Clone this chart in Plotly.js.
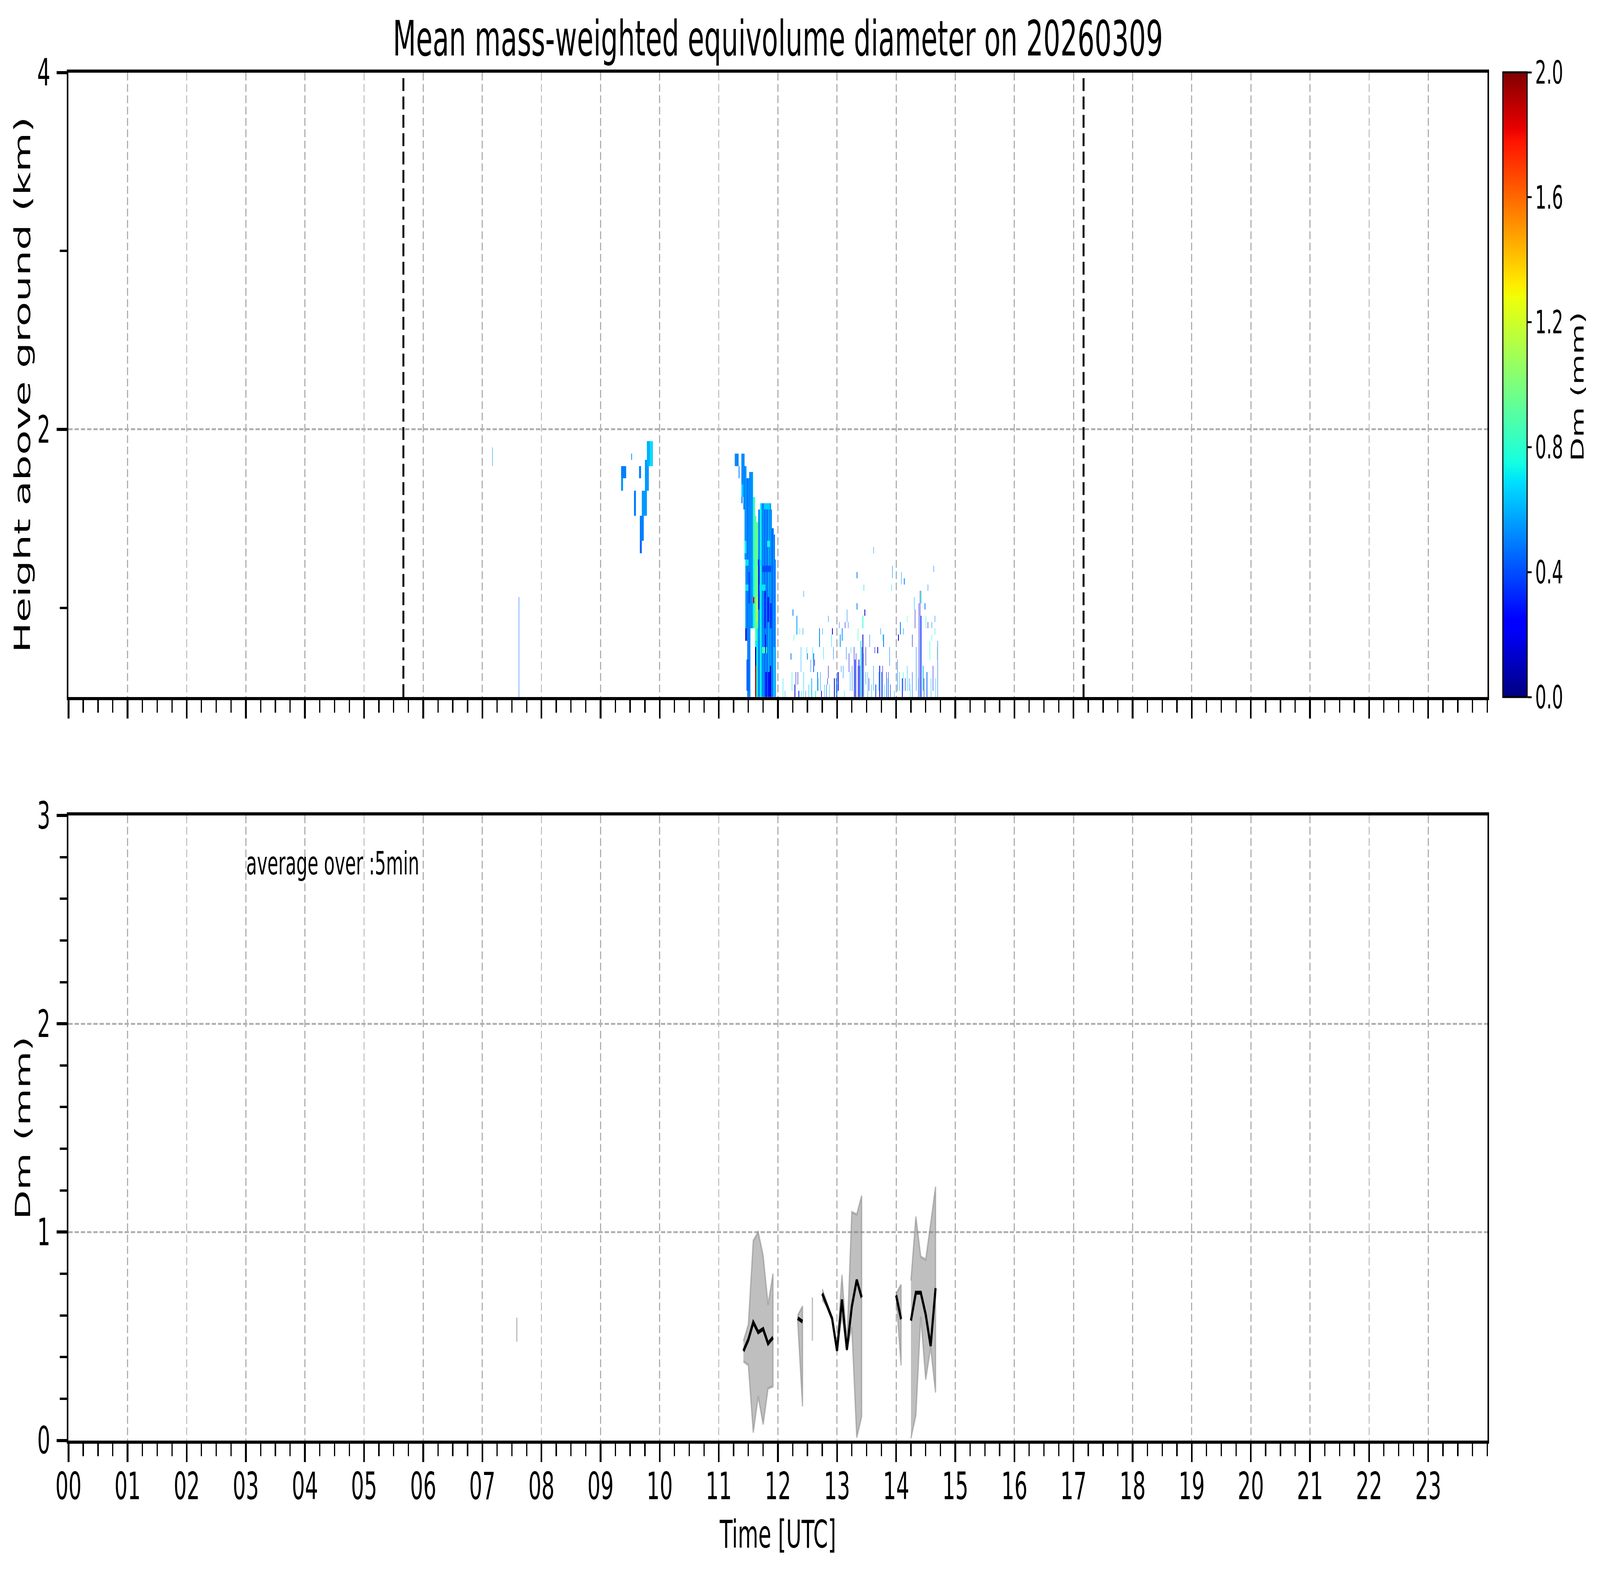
<!DOCTYPE html>
<html>
<head>
<meta charset="utf-8">
<script src="https://cdn.plot.ly/plotly-3.0.1.min.js"></script>
<style>
html,body{margin:0;padding:0;background:#fff;overflow:hidden;}
#wrap{position:absolute;left:0;top:0;width:7442px;height:4031px;transform-origin:0 0;}
</style>
</head>
<body>
<div id="wrap"><div id="chart"></div></div>
<script>
const CHART = document.getElementById('chart');
const WRAP = document.getElementById('wrap');
const W = 7442, H = 4031;
const FONT = 'DejaVu Sans';

const TITLE = 'Mean mass-weighted equivolume diameter on 20260309';
const HOUR_TICKS = [0, 1, 2, 3, 4, 5, 6, 7, 8, 9, 10, 11, 12, 13, 14, 15, 16, 17, 18, 19, 20, 21, 22, 23];
const HOUR_LABELS = ['00', '01', '02', '03', '04', '05', '06', '07', '08', '09', '10', '11',
                     '12', '13', '14', '15', '16', '17', '18', '19', '20', '21', '22', '23'];
const HEIGHT_TICKS = [2, 4];
const HEIGHT_LABELS = ['2', '4'];
const HEIGHT_MINOR = [1, 3];
const DM_TICKS = [0, 1, 2, 3];
const DM_LABELS = ['0', '1', '2', '3'];
const CBAR_TICKS = [0, 0.4, 0.8, 1.2, 1.6, 2.0];
const CBAR_LABELS = ['0.0', '0.4', '0.8', '1.2', '1.6', '2.0'];

// sunrise / sunset (hours UTC)
const SUN_LINES = [5.665, 17.17];

// ---- radar Dm (mm), times in minutes of day, heights in km ----
// main precipitation column, one entry per minute
const mainMin = [676, 677, 678, 679, 680, 683, 684, 685, 686, 687,
                 688, 689, 690, 691, 692, 693, 694, 695, 696, 697,
                 698, 699, 700, 701, 702, 703, 704, 705, 706, 707,
                 708, 709, 710, 711, 712, 713, 714, 715, 716, 717];
const mainBot = [1.78, 1.78, 1.78, 1.78, 1.71, 1.60, 1.63, 1.56, 1.28, 0.90,
                 0.81, 0.51, 0.51, 0.51, 0.88, 0.88, 0.88, 0.88, 0.88, 0.51,
                 0.51, 0.51, 0.51, 0.51, 0.51, 0.51, 0.51, 0.51, 0.51, 0.51,
                 0.51, 0.51, 0.51, 0.51, 0.51, 0.51, 0.51, 0.51, 0.51, 0.51];
const mainTop = [1.85, 1.85, 1.85, 1.85, 1.78, 1.85, 1.85, 1.85, 1.78, 1.78,
                 1.71, 1.71, 1.71, 1.75, 1.75, 1.75, 1.75, 1.63, 1.63, 1.53,
                 1.49, 1.49, 1.56, 1.56, 1.60, 1.60, 1.60, 1.60, 1.60, 1.60,
                 1.60, 1.60, 1.60, 1.60, 1.60, 1.56, 1.44, 1.44, 1.42, 1.26];
const mainDm  = [0.50, 0.55, 0.45, 0.55, 0.50, 0.50, 0.55, 0.50, 0.52, 0.55,
                 0.50, 0.48, 0.55, 0.50, 0.55, 0.52, 0.60, 0.75, 0.85, 0.90,
                 0.80, 0.65, 0.50, 0.60, 0.75, 0.60, 0.50, 0.55, 0.45, 0.55,
                 0.50, 0.45, 0.60, 0.50, 0.55, 0.50, 0.45, 0.55, 0.50, 0.50];

// blocks: the 09:30 echo and patches inside the main column
const blockStart = [561, 561, 571, 574, 579, 580, 580, 582, 585, 587, 590,
                    687, 686, 695, 697, 698, 695, 697, 697, 700, 697, 704,
                    706, 709, 712, 707, 710, 712, 699, 709, 704, 687, 687,
                    715, 702, 706, 700, 707, 690, 688, 683];
const blockEnd   = [565, 562, 571, 575, 580, 583, 581, 586, 588, 592, 591,
                    689, 687, 696, 699, 698, 695, 697, 697, 706, 698, 708,
                    707, 710, 713, 708, 711, 712, 702, 711, 712, 689, 687,
                    716, 702, 711, 700, 707, 691, 690, 684];
const blockBot   = [1.71, 1.67, 1.82, 1.53, 1.71, 1.38, 1.31, 1.53, 1.64, 1.78, 1.80,
                    1.24, 1.31, 1.28, 0.90, 0.93, 1.02, 0.51, 0.66, 1.09, 0.77, 0.74,
                    0.90, 0.93, 0.90, 0.51, 0.51, 0.51, 1.24, 1.35, 1.20, 1.09, 0.81,
                    0.51, 1.56, 1.56, 0.99, 0.76, 1.01, 0.55, 1.63];
const blockTop   = [1.78, 1.71, 1.85, 1.67, 1.78, 1.53, 1.38, 1.67, 1.82, 1.93, 1.93,
                    1.28, 1.38, 1.63, 1.49, 1.05, 1.06, 0.66, 0.77, 1.13, 0.81, 0.77,
                    1.09, 1.05, 1.02, 0.64, 0.64, 0.66, 1.28, 1.38, 1.24, 1.13, 0.87,
                    0.77, 1.60, 1.60, 1.28, 0.86, 1.20, 0.72, 1.70];
const blockDm    = [0.50, 0.55, 0.55, 0.50, 0.50, 0.50, 0.45, 0.55, 0.55, 0.60, 0.70,
                    0.70, 0.72, 0.85, 0.95, 1.15, 1.85, 1.90, 0.10, 0.70, 0.72, 0.85,
                    0.35, 0.30, 0.35, 0.30, 0.28, 0.15, 0.68, 0.75, 0.40, 0.70, 0.15,
                    0.65, 0.70, 0.65, 0.25, 0.20, 0.42, 0.45, 0.65];

// thin streaks (single half-minute column)
const streakMin = [430, 457, 725, 727, 733, 734, 735, 736, 737, 738,
                   739, 740, 741, 742, 743, 744, 745, 746, 746, 748,
                   749, 750, 751, 753, 754, 755, 756, 757, 758, 760,
                   761, 762, 763, 764, 765, 766, 767, 769, 770, 771,
                   771, 772, 774, 775, 776, 777, 779, 780, 781, 782,
                   783, 784, 785, 786, 787, 788, 789, 790, 791, 792,
                   793, 794, 795, 797, 798, 799, 800, 800, 801, 801,
                   802, 803, 804, 805, 806, 806, 807, 807, 808, 809,
                   809, 811, 812, 813, 815, 817, 817, 818, 819, 821,
                   822, 823, 824, 825, 826, 826, 827, 828, 830, 831,
                   832, 833, 834, 835, 836, 838, 841, 842, 843, 844,
                   845, 846, 847, 847, 848, 849, 851, 851, 853, 854,
                   856, 856, 858, 859, 860, 862, 863, 864, 865, 865,
                   867, 868, 869, 870, 871, 872, 872, 874, 875, 876,
                   876, 877, 878, 879, 879, 880, 881, 882];
const streakBot = [1.78, 0.50, 0.51, 0.51, 0.70, 0.55, 0.95, 0.80, 0.51, 0.56,
                   0.84, 0.56, 0.51, 0.84, 0.63, 0.51, 0.84, 0.51, 1.06, 0.51,
                   0.70, 0.70, 0.51, 0.63, 0.51, 0.70, 0.63, 0.66, 0.51, 0.52,
                   0.52, 0.77, 0.52, 0.51, 0.84, 0.70, 0.51, 0.51, 0.56, 0.59,
                   0.92, 0.51, 0.77, 0.84, 0.70, 0.51, 0.51, 0.51, 0.52, 0.88,
                   0.77, 0.63, 0.81, 0.59, 0.51, 0.88, 0.70, 0.92, 0.88, 0.63,
                   0.52, 0.74, 0.52, 0.51, 0.51, 0.51, 0.99, 1.17, 0.81, 0.51,
                   0.51, 0.51, 0.51, 0.51, 0.51, 0.88, 0.51, 1.09, 0.95, 0.66,
                   0.56, 0.51, 0.52, 0.77, 0.51, 0.52, 1.31, 0.74, 0.51, 0.74,
                   0.52, 0.51, 0.84, 0.51, 0.51, 0.81, 0.77, 0.51, 0.51, 0.51,
                   0.51, 0.66, 0.51, 1.09, 1.17, 0.51, 0.52, 0.81, 0.52, 0.84,
                   1.13, 0.51, 0.84, 0.52, 1.13, 0.52, 0.52, 0.92, 0.52, 0.51,
                   0.77, 0.51, 0.99, 0.88, 0.52, 0.51, 0.51, 0.51, 1.03, 0.51,
                   0.52, 0.51, 1.00, 0.88, 0.51, 1.11, 0.88, 0.70, 0.51, 0.88,
                   0.81, 0.52, 1.20, 0.84, 0.92, 0.51, 0.70, 0.51];
const streakTop = [1.89, 1.06, 0.59, 0.53, 0.74, 0.63, 0.99, 0.84, 0.56, 0.63,
                   0.95, 0.63, 0.53, 0.88, 0.77, 0.53, 0.88, 0.63, 1.09, 0.53,
                   0.77, 0.74, 0.56, 0.70, 0.59, 0.77, 0.74, 0.70, 0.53, 0.63,
                   0.59, 0.88, 0.63, 0.53, 0.88, 0.77, 0.56, 0.56, 0.59, 0.66,
                   0.95, 0.56, 0.84, 0.88, 0.77, 0.59, 0.59, 0.63, 0.63, 0.92,
                   0.84, 0.66, 0.88, 0.66, 0.53, 0.92, 0.77, 0.99, 0.92, 0.74,
                   0.63, 0.77, 0.66, 0.77, 0.70, 0.74, 1.03, 1.20, 0.88, 0.66,
                   0.70, 0.66, 0.81, 0.77, 0.84, 0.95, 0.74, 1.13, 0.99, 0.77,
                   0.63, 0.63, 0.59, 0.84, 0.56, 0.66, 1.35, 0.77, 0.56, 0.77,
                   0.63, 0.66, 0.88, 0.63, 0.66, 0.84, 0.84, 0.56, 0.63, 0.59,
                   0.63, 0.77, 0.56, 1.13, 1.24, 0.53, 0.70, 0.84, 0.63, 0.92,
                   1.20, 0.59, 0.88, 0.63, 1.17, 0.59, 0.66, 0.95, 0.59, 0.56,
                   0.84, 0.63, 1.06, 0.99, 0.77, 0.59, 1.03, 1.09, 1.09, 0.95,
                   0.66, 0.59, 1.03, 0.95, 0.63, 1.13, 0.92, 0.81, 0.59, 0.92,
                   0.84, 0.66, 1.24, 0.88, 0.95, 0.59, 0.77, 0.81];
const streakDm  = [0.55, 0.45, 0.70, 0.60, 0.50, 0.70, 0.50, 0.80, 0.15, 0.12,
                   0.55, 0.12, 0.30, 0.85, 0.60, 0.70, 0.50, 0.65, 0.55, 0.50,
                   0.70, 0.12, 0.60, 0.50, 0.65, 0.70, 0.45, 0.12, 0.75, 0.50,
                   0.70, 0.50, 0.55, 0.30, 0.55, 0.70, 0.60, 0.40, 0.12, 0.12,
                   0.50, 0.65, 0.70, 0.12, 0.50, 0.12, 0.50, 0.45, 0.15, 0.50,
                   0.55, 0.50, 0.55, 0.50, 0.70, 0.12, 0.50, 0.50, 0.50, 0.15,
                   0.60, 0.70, 0.45, 0.12, 0.35, 0.15, 0.50, 0.50, 0.75, 0.12,
                   0.30, 0.15, 0.70, 0.20, 0.10, 0.80, 0.65, 0.65, 0.12, 0.12,
                   0.50, 0.60, 0.20, 0.50, 0.60, 0.55, 0.55, 0.12, 0.40, 0.12,
                   0.60, 0.20, 0.50, 0.45, 0.15, 0.70, 0.50, 0.70, 0.20, 0.65,
                   0.35, 0.50, 0.15, 0.70, 0.50, 0.60, 0.45, 0.12, 0.60, 0.50,
                   0.55, 0.30, 0.50, 0.75, 0.50, 0.12, 0.65, 0.85, 0.50, 0.70,
                   0.12, 0.40, 0.60, 0.12, 0.50, 0.70, 0.15, 0.25, 0.80, 0.35,
                   0.60, 0.12, 0.50, 0.80, 0.45, 0.50, 0.12, 0.75, 0.60, 0.50,
                   0.80, 0.20, 0.50, 0.70, 0.50, 0.65, 1.05, 0.45];

// ---- 5-min averaged Dm (mm) near ground, minutes of day ----
const avgMin = [455, 685, 690, 695, 700, 705, 710, 715, 740, 745, 755, 765, 770, 775,
                780, 785, 790, 795, 800, 805, 840, 845, 855, 860, 865, 870, 875, 880];
const avgDm  = [0.53, 0.429, 0.484, 0.567, 0.519, 0.535, 0.465, 0.494, 0.587, 0.570, 0.58, 0.705, 0.647, 0.585,
                0.431, 0.676, 0.436, 0.642, 0.770, 0.686, 0.697, 0.582, 0.575, 0.709, 0.709, 0.604, 0.453, 0.731];
const avgHi  = [0.589, 0.477, 0.556, 0.959, 1.000, 0.887, 0.652, 0.800, 0.599, 0.644, 0.686, 0.726, 0.66, 0.59,
                0.44, 0.794, 0.46, 1.096, 1.085, 1.174, 0.705, 0.748, 0.767, 1.074, 0.882, 0.868, 1.04, 1.218];
const avgLo  = [0.474, 0.379, 0.361, 0.038, 0.211, 0.077, 0.249, 0.259, 0.58, 0.163, 0.479, 0.676, 0.64, 0.58,
                0.425, 0.60, 0.43, 0.542, 0.014, 0.115, 0.69, 0.360, 0.01, 0.12, 0.594, 0.292, 0.446, 0.23];

// matplotlib 'jet'
const JET = [
    [0.000, 'rgb(0,0,128)'], [0.110, 'rgb(0,0,255)'], [0.125, 'rgb(0,0,255)'],
    [0.340, 'rgb(0,219,255)'], [0.350, 'rgb(0,230,247)'], [0.375, 'rgb(21,255,226)'],
    [0.640, 'rgb(239,255,8)'], [0.650, 'rgb(247,246,0)'], [0.660, 'rgb(255,236,0)'],
    [0.890, 'rgb(255,19,0)'], [0.910, 'rgb(232,0,0)'], [1.000, 'rgb(128,0,0)']
];

// heatmap grid
const GRID_START = 420, GRID_END = 900, GRID_STEP = 0.5;   // minutes
const GATE0 = 0.5, GATE = 0.035, NGATES = 43;              // km

function col(min) {
    return Math.round((min - GRID_START) / GRID_STEP);
}

function paint(z, c0, c1, bot, top, dm) {
    for (let c = c0; c <= c1; c++) {
        for (let k = 0; k < NGATES; k++) {
            const hc = GATE0 + (k + 0.5) * GATE;
            if (hc >= bot && hc <= top) z[k][c] = dm;
        }
    }
}

function build_grid() {
    const ncol = (GRID_END - GRID_START) / GRID_STEP;
    const z = [];
    for (let k = 0; k < NGATES; k++) z.push(new Array(ncol).fill(null));
    mainMin.forEach((m, i) => paint(z, col(m), col(m) + 1, mainBot[i], mainTop[i], mainDm[i]));
    blockStart.forEach((m, i) => paint(z, col(m), col(blockEnd[i]) + 1, blockBot[i], blockTop[i], blockDm[i]));
    streakMin.forEach((m, i) => paint(z, col(m), col(m), streakBot[i], streakTop[i], streakDm[i]));
    return z;
}

// split the 5-min series where samples are missing
function segments() {
    const segs = [];
    let cur = [];
    avgMin.forEach((m, i) => {
        if (cur.length && m - avgMin[i - 1] > 5.5) { segs.push(cur); cur = []; }
        cur.push(i);
    });
    if (cur.length) segs.push(cur);
    return segs;
}

// plot area, pixels
const PL = 318.5, PR = 6918, TOP_T = 185.5, TOP_B = 1784, BOT_T = 2087, BOT_B = 3686.5;

function axis_base() {
    return {
        showline: true, linecolor: 'black', linewidth: 8, mirror: true,
        ticks: 'outside', ticklen: 47, tickwidth: 8, tickcolor: 'black',
        showgrid: true, gridcolor: '#b0b0b0', gridwidth: 5, griddash: '20px,9px',
        zeroline: false,
        tickfont: {family: FONT, size: 96, color: 'black'}
    };
}

// the figure is laid out at 7442x4031 and scaled to whatever window it gets
function fit_window() {
    const sx = (window.innerWidth || W) / W, sy = (window.innerHeight || H) / H;
    WRAP.style.transform = 'scale(' + sx + ',' + sy + ')';
}

function plot() {
    const hourMinor = [];
    for (let t = 0.25; t <= 24.001; t += 0.25) if (Math.abs(t - Math.round(t)) > 0.01 || t > 23.5) hourMinor.push(t);
    const dmMinor = [];
    for (let v = 0.2; v < 3; v += 0.2) if (Math.abs(v - Math.round(v)) > 0.01) dmMinor.push(+v.toFixed(1));

    const heat = {
        type: 'heatmap', xaxis: 'x', yaxis: 'y',
        z: build_grid(),
        x0: (GRID_START + GRID_STEP / 2) / 60, dx: GRID_STEP / 60,
        y0: GATE0 + GATE / 2, dy: GATE,
        zmin: 0, zmax: 2, colorscale: JET, zsmooth: false, hoverinfo: 'skip',
        colorbar: {
            x: 6990 / W, xanchor: 'left', y: 1 - TOP_B / H, yanchor: 'bottom',
            len: (TOP_B - TOP_T) / H, lenmode: 'fraction',
            thickness: 113, thicknessmode: 'pixels', xpad: 0, ypad: 0,
            outlinecolor: 'black', outlinewidth: 5,
            tickvals: CBAR_TICKS, ticktext: CBAR_LABELS,
            ticks: 'outside', ticklen: 19, tickwidth: 5, tickcolor: 'black',
            tickfont: {family: FONT, size: 82, color: 'black'}
        }
    };

    const bandX = [], bandY = [], lineX = [], lineY = [];
    segments().forEach(seg => {
        seg.forEach(i => { bandX.push(avgMin[i] / 60); bandY.push(avgHi[i]); });
        seg.slice().reverse().forEach(i => { bandX.push(avgMin[i] / 60); bandY.push(avgLo[i]); });
        bandX.push(null); bandY.push(null);
        seg.forEach(i => { lineX.push(avgMin[i] / 60); lineY.push(avgDm[i]); });
        lineX.push(null); lineY.push(null);
    });

    const band = {
        type: 'scatter', mode: 'lines', xaxis: 'x2', yaxis: 'y2',
        x: bandX, y: bandY, fill: 'toself', connectgaps: false,
        fillcolor: 'rgba(128,128,128,0.5)',
        line: {color: 'rgba(128,128,128,0.5)', width: 6},
        hoverinfo: 'skip'
    };
    const mean = {
        type: 'scatter', mode: 'lines', xaxis: 'x2', yaxis: 'y2',
        x: lineX, y: lineY, connectgaps: false,
        line: {color: 'black', width: 10}, hoverinfo: 'skip'
    };

    const xdom = [PL / W, PR / W];
    const minorX = {tickmode: 'array', tickvals: hourMinor, ticks: 'outside', ticklen: 32, tickwidth: 6, tickcolor: 'black', showgrid: false};
    const minorY = vals => ({tickmode: 'array', tickvals: vals, ticks: 'outside', ticklen: 32, tickwidth: 6, tickcolor: 'black', showgrid: false});

    const layout = {
        width: W, height: H,
        margin: {l: 0, r: 0, t: 0, b: 0},
        paper_bgcolor: 'white', plot_bgcolor: 'white',
        showlegend: false,
        font: {family: FONT, color: 'black'},
        title: {
            text: TITLE, x: (PL + PR) / 2 / W, xanchor: 'center', xref: 'paper',
            y: 1 - 98 / H, yanchor: 'middle', yref: 'paper',
            font: {family: FONT, size: 125, color: 'black'}
        },
        xaxis: Object.assign(axis_base(), {
            domain: xdom, anchor: 'y', range: [0, 24],
            tickmode: 'array', tickvals: HOUR_TICKS, ticktext: HOUR_LABELS,
            showticklabels: false, minor: minorX
        }),
        yaxis: Object.assign(axis_base(), {
            domain: [1 - TOP_B / H, 1 - TOP_T / H], anchor: 'x', range: [0.5, 4],
            tickmode: 'array', tickvals: HEIGHT_TICKS, ticktext: HEIGHT_LABELS,
            ticklabelstandoff: 10, minor: minorY(HEIGHT_MINOR),
            title: {text: 'Height above ground (km)', standoff: 0, font: {family: FONT, size: 104, color: 'black'}}
        }),
        xaxis2: Object.assign(axis_base(), {
            domain: xdom, anchor: 'y2', range: [0, 24],
            tickmode: 'array', tickvals: HOUR_TICKS, ticktext: HOUR_LABELS,
            ticklabelstandoff: -20, minor: minorX,
            title: {text: 'Time [UTC]', standoff: 37, font: {family: FONT, size: 98, color: 'black'}}
        }),
        yaxis2: Object.assign(axis_base(), {
            domain: [1 - BOT_B / H, 1 - BOT_T / H], anchor: 'x2', range: [0, 3],
            tickmode: 'array', tickvals: DM_TICKS, ticktext: DM_LABELS,
            ticklabelstandoff: 10, minor: minorY(dmMinor),
            title: {text: 'Dm (mm)', standoff: 3, font: {family: FONT, size: 98, color: 'black'}}
        }),
        shapes: SUN_LINES.map(t => ({
            type: 'line', xref: 'x', yref: 'y domain', x0: t, x1: t, y0: 0, y1: 1,
            line: {color: 'black', width: 9, dash: '33px,14px'}
        })),
        annotations: [{
            xref: 'x2', yref: 'y2', x: 3.0, y: 2.77, xanchor: 'left', yanchor: 'middle',
            text: 'average over :5min', showarrow: false,
            font: {family: FONT, size: 82, color: 'black'}
        }, {
            // colour bar label
            xref: 'paper', yref: 'paper', x: 7338 / W, y: 1 - 990 / H,
            xanchor: 'center', yanchor: 'middle', textangle: -90,
            text: 'Dm (mm)', showarrow: false,
            font: {family: FONT, size: 80, color: 'black'}
        }]
    };

    fit_window();
    Plotly.newPlot(CHART, [heat, band, mean], layout, {staticPlot: true});
}

plot();
</script>
</body>
</html>
